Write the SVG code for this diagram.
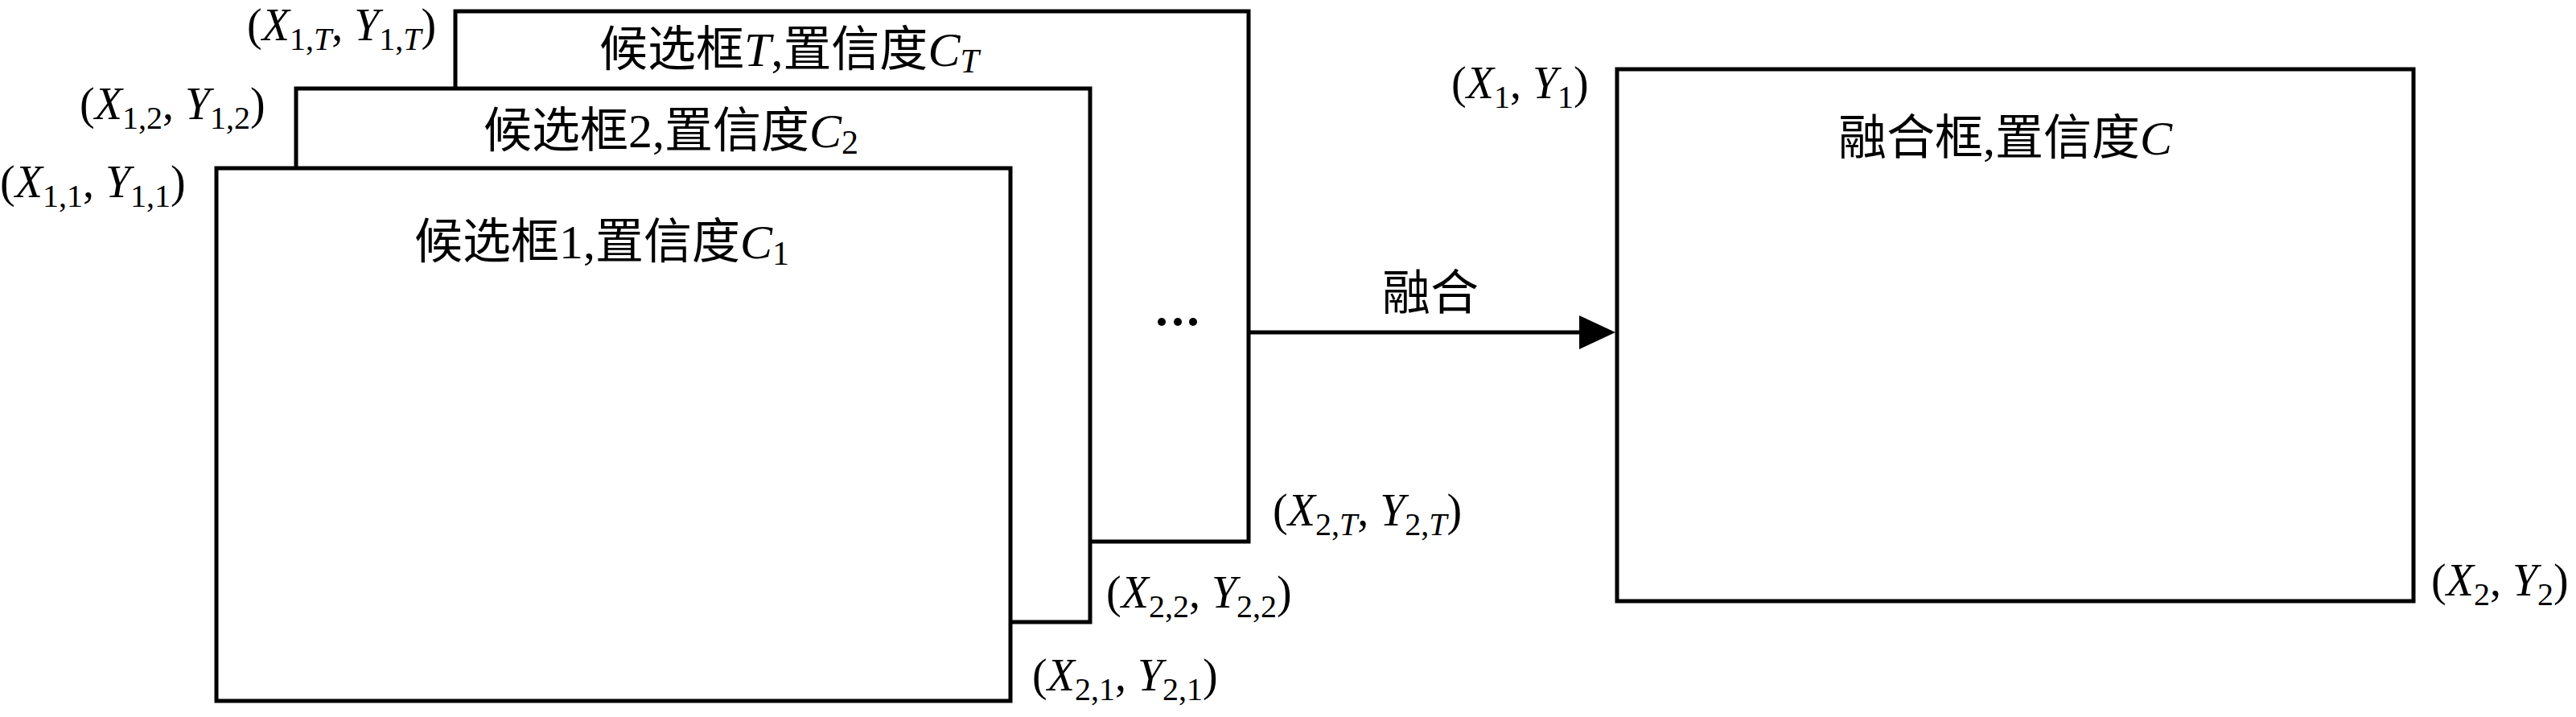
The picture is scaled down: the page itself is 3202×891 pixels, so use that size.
<svg xmlns="http://www.w3.org/2000/svg" width="3202" height="891" viewBox="0 0 3202 891">
  <defs>
    <style>
      .box { fill: #ffffff; stroke: #000000; stroke-width: 5; }
      .lbl { font-family: "Liberation Serif", "Noto Sans CJK SC", serif; font-size: 60px; fill: #000000; }
      .crd { font-family: "Liberation Serif", serif; font-size: 56px; fill: #000000; }
      .it { font-style: italic; }
      .sub { font-size: 40px; }
      .sub2 { font-size: 42px; }
      .conn { stroke: #000000; stroke-width: 5; fill: none; }
    </style>
    <marker id="arrow" markerUnits="userSpaceOnUse" markerWidth="46" markerHeight="44" refX="7" refY="21" orient="auto">
      <path d="M0,0 L45,21 L0,42 Z" fill="#000000"/>
    </marker>
  </defs>
  <rect width="3202" height="891" fill="#ffffff"/>

  <g id="boxT">
    <rect class="box" x="566" y="14" width="986" height="659"/>
    <text class="lbl" x="745" y="82">候选框<tspan class="it">T</tspan>,置信度<tspan class="it">C</tspan><tspan class="sub2 it" dy="8">T</tspan></text>
  </g>
  <g id="box2">
    <rect class="box" x="368" y="110" width="987" height="663"/>
    <text class="lbl" x="601" y="183">候选框2,置信度<tspan class="it">C</tspan><tspan class="sub2" dy="8">2</tspan></text>
  </g>
  <g id="box1">
    <rect class="box" x="269" y="209" width="987" height="662"/>
    <text class="lbl" x="515" y="321">候选框1,置信度<tspan class="it">C</tspan><tspan class="sub2" dy="8">1</tspan></text>
  </g>
  <g id="dots">
    <circle cx="1444" cy="400" r="5"/>
    <circle cx="1464" cy="400" r="5"/>
    <circle cx="1483" cy="400" r="5"/>
  </g>
  <g id="fusedBox">
    <rect class="box" x="2010" y="86" width="990" height="661"/>
    <text class="lbl" x="2285" y="192">融合框,置信度<tspan class="it">C</tspan></text>
  </g>

  <g id="coords">
    <text class="crd" x="307" y="50">(<tspan class="it">X</tspan><tspan class="sub" dy="12">1,<tspan class="it">T</tspan></tspan><tspan dy="-12">, </tspan><tspan class="it">Y</tspan><tspan class="sub" dy="12">1,<tspan class="it">T</tspan></tspan><tspan dy="-12">)</tspan></text>
    <text class="crd" x="99" y="148">(<tspan class="it">X</tspan><tspan class="sub" dy="12">1,2</tspan><tspan dy="-12">, </tspan><tspan class="it">Y</tspan><tspan class="sub" dy="12">1,2</tspan><tspan dy="-12">)</tspan></text>
    <text class="crd" x="0" y="245">(<tspan class="it">X</tspan><tspan class="sub" dy="12">1,1</tspan><tspan dy="-12">, </tspan><tspan class="it">Y</tspan><tspan class="sub" dy="12">1,1</tspan><tspan dy="-12">)</tspan></text>
    <text class="crd" x="1582" y="653">(<tspan class="it">X</tspan><tspan class="sub" dy="12">2,<tspan class="it">T</tspan></tspan><tspan dy="-12">, </tspan><tspan class="it">Y</tspan><tspan class="sub" dy="12">2,<tspan class="it">T</tspan></tspan><tspan dy="-12">)</tspan></text>
    <text class="crd" x="1375" y="755">(<tspan class="it">X</tspan><tspan class="sub" dy="12">2,2</tspan><tspan dy="-12">, </tspan><tspan class="it">Y</tspan><tspan class="sub" dy="12">2,2</tspan><tspan dy="-12">)</tspan></text>
    <text class="crd" x="1283" y="858">(<tspan class="it">X</tspan><tspan class="sub" dy="12">2,1</tspan><tspan dy="-12">, </tspan><tspan class="it">Y</tspan><tspan class="sub" dy="12">2,1</tspan><tspan dy="-12">)</tspan></text>
    <text class="crd" x="1804" y="122">(<tspan class="it">X</tspan><tspan class="sub" dy="12">1</tspan><tspan dy="-12">, </tspan><tspan class="it">Y</tspan><tspan class="sub" dy="12">1</tspan><tspan dy="-12">)</tspan></text>
    <text class="crd" x="3022" y="740">(<tspan class="it">X</tspan><tspan class="sub" dy="12">2</tspan><tspan dy="-12">, </tspan><tspan class="it">Y</tspan><tspan class="sub" dy="12">2</tspan><tspan dy="-12">)</tspan></text>
  </g>

  <g id="connectors">
    <line class="conn" x1="1552" y1="413" x2="1970" y2="413" marker-end="url(#arrow)"/>
    <text class="lbl" x="1718" y="385">融合</text>
  </g>
</svg>
